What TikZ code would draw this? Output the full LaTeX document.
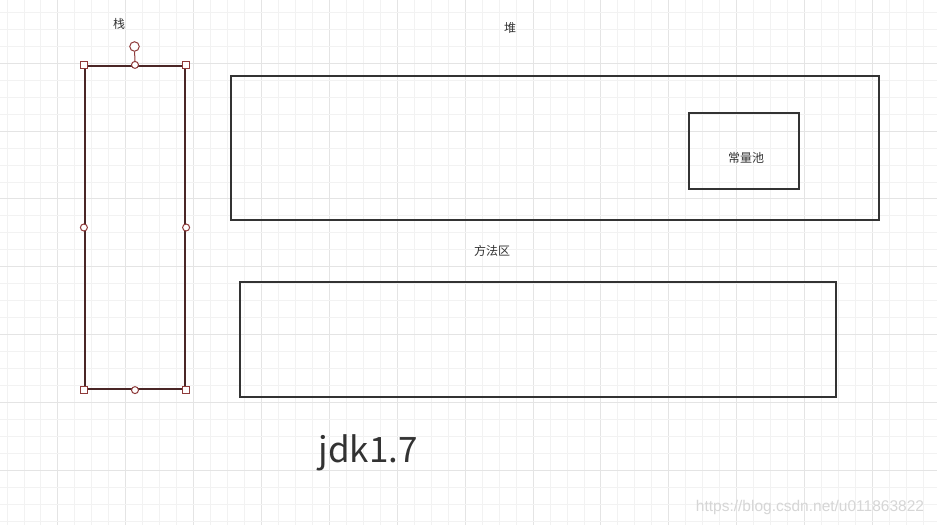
\documentclass[tikz,border=0pt]{standalone}
\usepackage{fontspec}
\setmainfont{Noto Sans CJK SC}
\newfontfamily\wmfont{Liberation Sans}
\begin{document}
\begin{tikzpicture}[x=1pt,y=-1pt,
  box/.style={draw=boxline,line width=2pt,rectangle,inner sep=0pt},
  lbl/.style={font=\fontsize{12}{14}\selectfont,text=labeltext,inner sep=0pt},
  sqhandle/.style={draw=handle,fill=white,line width=1pt,rectangle,minimum size=7.5pt,inner sep=0pt},
  cihandle/.style={draw=handle,fill=white,line width=1pt,circle,minimum size=7pt,inner sep=0pt},
  rothandle/.style={draw=handle,fill=white,line width=1pt,circle,minimum size=9.5pt,inner sep=0pt},
  minorgrid/.style={draw=gridminor,line width=0.9pt},
  majorgrid/.style={draw=gridmajor,line width=1pt}]
\definecolor{boxline}{HTML}{333333}
\definecolor{stackline}{HTML}{4A2626}
\definecolor{handle}{HTML}{8E3A3A}
\definecolor{gridminor}{HTML}{F2F2F2}
\definecolor{gridmajor}{HTML}{E4E4E4}
\definecolor{labeltext}{HTML}{333333}
\definecolor{wmtext}{HTML}{D6D6D6}
\useasboundingbox (0,0) rectangle (937,525);
\fill[white] (0,0) rectangle (937,525);
% grid
\foreach \k in {0,...,55}{
  \pgfmathsetmacro\gx{7+16.97*\k}
  \pgfmathtruncatemacro\m{mod(\k,4)}
  \ifnum\m=3 \draw[majorgrid] (\gx,0) -- (\gx,525); \else \draw[minorgrid] (\gx,0) -- (\gx,525); \fi
}
\foreach \k in {0,...,30}{
  \pgfmathsetmacro\gy{12.3+16.97*\k}
  \pgfmathtruncatemacro\m{mod(\k,4)}
  \ifnum\m=3 \draw[majorgrid] (0,\gy) -- (937,\gy); \else \draw[minorgrid] (0,\gy) -- (937,\gy); \fi
}
% labels
\node[lbl] (lstack) at (119,24) {栈};
\node[lbl] (lheap) at (510,28) {堆};
\node[lbl] (lmethod) at (492,251) {方法区};
% boxes
\node[box,draw=stackline,line width=2.2pt,minimum width=100pt,minimum height=323pt] (stack) at (135,227.5) {};
\node[box,minimum width=648pt,minimum height=144pt] (heap) at (555,148) {};
\node[box,minimum width=110pt,minimum height=76pt] (pool) at (744,151) {};
\node[lbl] (pooltext) at (746,158) {常量池};
\node[box,minimum width=596pt,minimum height=115pt] (method) at (538,339.5) {};
% selection handles
\node[rothandle] (rot) at (134.5,46.5) {};
\draw[draw=handle,line width=1pt] (rot) -- (stack.north);
\node[sqhandle] (hnw) at (stack.north west) {};
\node[sqhandle] (hne) at (stack.north east) {};
\node[sqhandle] (hsw) at (stack.south west) {};
\node[sqhandle] (hse) at (stack.south east) {};
\node[cihandle] (hn) at (stack.north) {};
\node[cihandle] (hs) at (stack.south) {};
\node[cihandle] (hw) at (stack.west) {};
\node[cihandle] (he) at (stack.east) {};
% title
\node[font=\fontsize{35}{38}\selectfont,text=labeltext,inner sep=0pt] (jdk) at (368,453) {jdk1.7};
% watermark
\node[font=\wmfont\fontsize{15.5}{17}\selectfont,text=wmtext,inner sep=0pt] (wm) at (810,507) {https://blog.csdn.net/u011863822};
\end{tikzpicture}
\end{document}
